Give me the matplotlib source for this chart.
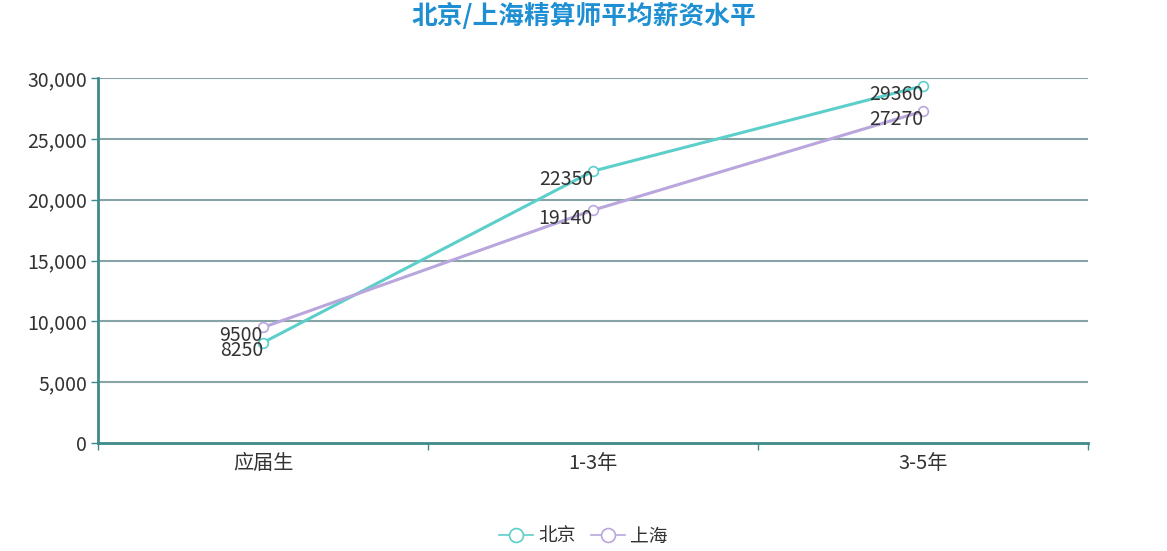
import numpy as np
import matplotlib
matplotlib.use('Agg')
import matplotlib.pyplot as plt
from matplotlib.lines import Line2D

plt.rcParams['font.family'] = ['Noto Sans CJK SC', 'DejaVu Sans']

# data
categories = ['应届生', '1-3年', '3-5年']
beijing = [8250, 22350, 29360]
shanghai = [9500, 19140, 27270]
series_names = ['北京', '上海']
y_ticks = [0, 5000, 10000, 15000, 20000, 25000, 30000]

c_bj = '#5dcfca'
c_sh = '#b9a6dc'
c_axis = '#3f8a8a'
c_grid = '#86a3a6'
c_text = '#333333'

fig = plt.figure(figsize=(11.67, 5.51), dpi=100)
ax = fig.add_axes([98/1167, 1-443/551, 990/1167, 365/551])

x = np.arange(len(categories))
for vals, col in [(beijing, c_bj), (shanghai, c_sh)]:
    ax.plot(x, vals, color=col, lw=2.2, marker='o', ms=7,
            markerfacecolor='white', markeredgecolor=col, markeredgewidth=1.2, zorder=3)
    for xi, v in zip(x, vals):
        ax.annotate(str(v), (xi, v), xytext=(0, -6), textcoords='offset points',
                    ha='right', va='center', fontsize=14, color=c_text, zorder=4)

ax.set_xlim(-0.5, 2.5)
ax.set_ylim(0, 30000)
ax.set_yticks(y_ticks)
ax.set_yticklabels([f'{t:,}' for t in y_ticks])
ax.set_xticks([-0.5, 0.5, 1.5, 2.5])
ax.set_xticklabels([])
ax.set_xticks(x, minor=True)
ax.set_xticklabels(categories, minor=True)
ax.tick_params(axis='x', which='minor', length=0, pad=7, labelsize=14.5, labelcolor=c_text)
ax.tick_params(axis='x', which='major', length=5, color=c_axis, width=1)
ax.tick_params(axis='y', length=5, color=c_axis, width=1, labelsize=14, labelcolor=c_text, pad=3)

for y in y_ticks[1:]:
    ax.axhline(y, color=c_grid, lw=1.5, zorder=1)

for s in ['top', 'right']:
    ax.spines[s].set_visible(False)
for s in ['left', 'bottom']:
    ax.spines[s].set_color(c_axis)
    ax.spines[s].set_linewidth(2)

fig.text(0.5, 1-16/551, '北京/上海精算师平均薪资水平', ha='center', va='center',
         fontsize=18.5, fontweight='bold', color='#1e8fd2')

handles = [Line2D([], [], color=c, lw=1.2, marker='o', ms=10, markerfacecolor='white',
                  markeredgecolor=c, markeredgewidth=1.2) for c in [c_bj, c_sh]]
fig.legend(handles, series_names, loc='center', bbox_to_anchor=(0.5, 1-536/551),
           ncol=2, frameon=False, fontsize=13.5, handlelength=1.8, handletextpad=0.3,
           columnspacing=0.8, labelcolor=c_text)

fig.savefig('out.png', dpi=100)
